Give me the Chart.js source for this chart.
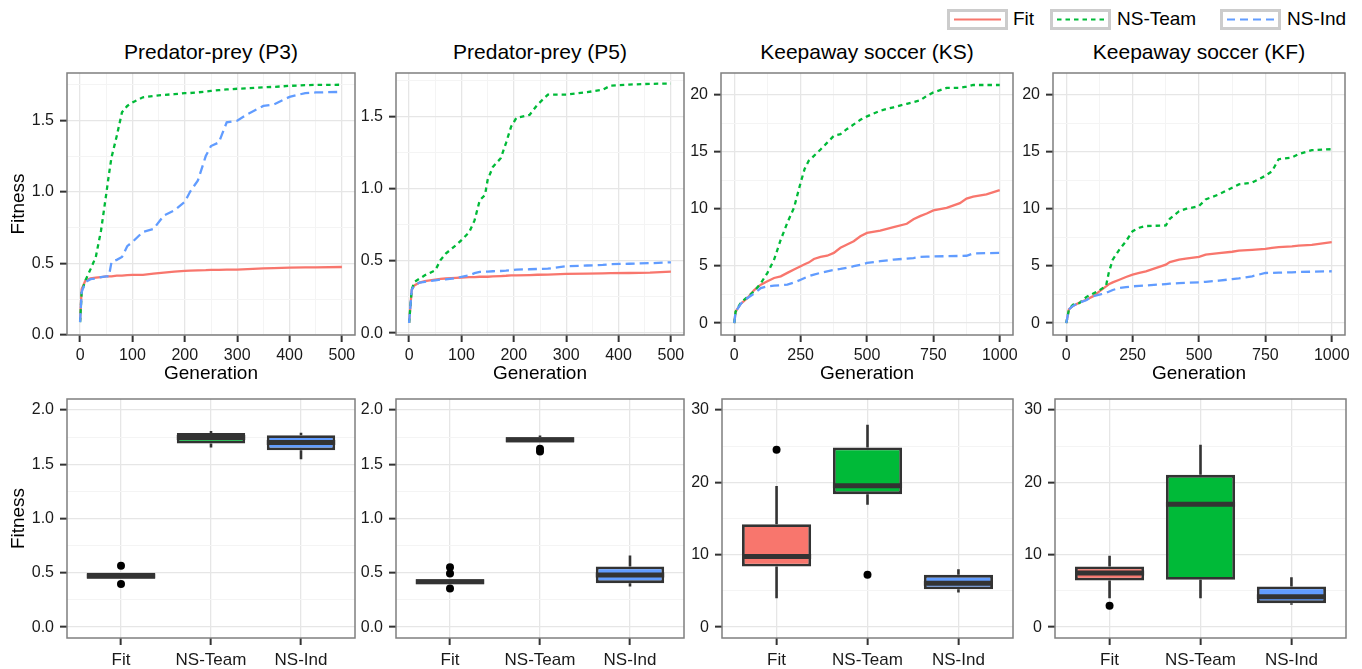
<!DOCTYPE html>
<html>
<head>
<meta charset="utf-8">
<script src="https://cdn.jsdelivr.net/npm/chart.js"></script>
<style>
html,body{margin:0;padding:0;background:#fff;}
body{width:1362px;height:669px;position:relative;overflow:hidden;font-family:'Liberation Sans',Arial,Helvetica,sans-serif;}
canvas{position:absolute;}
.ptitle{position:absolute;text-align:center;font-size:21px;line-height:24px;color:#000;white-space:nowrap;width:300px;}
.lkey{position:absolute;top:9px;width:61px;height:21px;box-sizing:border-box;border:3px solid #CCCCCC;background:#fff;}
.lkey svg{position:absolute;left:0;top:0;}
.ltext{position:absolute;top:8px;font-size:19px;line-height:22px;color:#000;white-space:nowrap;}
</style>
</head>
<body>
<div class="ptitle" style="left:61px;top:40px;">Predator-prey (P3)</div>
<div class="ptitle" style="left:390px;top:40px;">Predator-prey (P5)</div>
<div class="ptitle" style="left:717px;top:40px;">Keepaway soccer (KS)</div>
<div class="ptitle" style="left:1049px;top:40px;">Keepaway soccer (KF)</div>

<div class="lkey" style="left:947px;"><svg width="55" height="15"><line x1="4" y1="7.5" x2="51" y2="7.5" stroke="#F8766D" stroke-width="2.2"/></svg></div>
<div class="ltext" style="left:1013px;">Fit</div>
<div class="lkey" style="left:1050px;"><svg width="55" height="15"><line x1="4" y1="7.5" x2="51" y2="7.5" stroke="#00BA38" stroke-width="2.2" stroke-dasharray="4.5 4"/></svg></div>
<div class="ltext" style="left:1117px;">NS-Team</div>
<div class="lkey" style="left:1220px;"><svg width="55" height="15"><line x1="4" y1="7.5" x2="51" y2="7.5" stroke="#619CFF" stroke-width="2.2" stroke-dasharray="8 5"/></svg></div>
<div class="ltext" style="left:1287px;">NS-Ind</div>

<script>
// ---------------- DATA ----------------
const seriesNames = ['Fit', 'NS-Team', 'NS-Ind'];
const boxCategories = ['Fit', 'NS-Team', 'NS-Ind'];

// Predator-prey (P3)
const p3Gen    = [0, 3, 10, 20, 30, 40, 50, 55, 60, 70, 80, 90, 100, 120, 140, 160, 180, 200, 210, 225, 240, 250, 265, 280, 300, 320, 350, 370, 400, 430, 450, 500];
const p3Fit    = [0.10, 0.32, 0.38, 0.395, 0.40, 0.405, 0.41, 0.41, 0.41, 0.415, 0.415, 0.418, 0.42, 0.42, 0.428, 0.435, 0.442, 0.448, 0.45, 0.452, 0.453, 0.455, 0.455, 0.456, 0.457, 0.46, 0.465, 0.467, 0.47, 0.472, 0.473, 0.475];
const p3NSTeam = [0.09, 0.30, 0.38, 0.46, 0.545, 0.73, 0.986, 1.12, 1.24, 1.39, 1.555, 1.60, 1.624, 1.66, 1.67, 1.677, 1.682, 1.69, 1.69, 1.695, 1.70, 1.705, 1.71, 1.715, 1.72, 1.723, 1.73, 1.733, 1.74, 1.745, 1.747, 1.748];
const p3NSInd  = [0.09, 0.30, 0.37, 0.39, 0.395, 0.405, 0.41, 0.41, 0.51, 0.525, 0.545, 0.62, 0.65, 0.72, 0.74, 0.835, 0.87, 0.93, 1.0, 1.08, 1.25, 1.32, 1.345, 1.485, 1.497, 1.543, 1.60, 1.61, 1.663, 1.69, 1.694, 1.698];

// Predator-prey (P5)
const p5Gen    = [0, 5, 10, 20, 30, 50, 60, 70, 90, 100, 115, 125, 135, 145, 150, 160, 175, 185, 195, 205, 230, 245, 265, 300, 340, 370, 385, 420, 460, 500];
const p5Fit    = [0.07, 0.30, 0.33, 0.35, 0.36, 0.37, 0.375, 0.378, 0.383, 0.385, 0.387, 0.388, 0.39, 0.39, 0.39, 0.392, 0.395, 0.397, 0.40, 0.40, 0.402, 0.404, 0.405, 0.41, 0.412, 0.414, 0.415, 0.416, 0.418, 0.425];
const p5NSTeam = [0.07, 0.30, 0.354, 0.377, 0.40, 0.435, 0.505, 0.55, 0.61, 0.643, 0.70, 0.78, 0.92, 0.956, 1.06, 1.15, 1.21, 1.315, 1.43, 1.49, 1.51, 1.58, 1.65, 1.65, 1.667, 1.685, 1.713, 1.72, 1.725, 1.727];
const p5NSInd  = [0.07, 0.30, 0.33, 0.35, 0.355, 0.365, 0.37, 0.372, 0.38, 0.39, 0.40, 0.415, 0.424, 0.425, 0.426, 0.428, 0.43, 0.432, 0.435, 0.44, 0.442, 0.444, 0.446, 0.463, 0.468, 0.472, 0.477, 0.48, 0.484, 0.49];

// Keepaway soccer (KS)
const ksGen    = [0, 5, 25, 50, 75, 100, 125, 150, 175, 200, 225, 250, 265, 280, 300, 325, 350, 375, 400, 425, 450, 475, 500, 550, 600, 650, 675, 700, 725, 750, 800, 850, 875, 900, 950, 1000];
const ksFit    = [0, 1.0, 1.7, 2.2, 2.9, 3.37, 3.66, 3.95, 4.1, 4.4, 4.7, 4.98, 5.15, 5.3, 5.62, 5.8, 5.9, 6.15, 6.6, 6.88, 7.17, 7.6, 7.9, 8.1, 8.4, 8.7, 9.1, 9.37, 9.6, 9.87, 10.1, 10.5, 10.9, 11.07, 11.27, 11.65];
const ksNSTeam = [0, 1.0, 1.8, 2.3, 2.8, 3.5, 4.4, 5.56, 7.3, 8.8, 10.1, 12.3, 13.5, 14.2, 14.64, 15.2, 15.8, 16.4, 16.55, 17.0, 17.4, 17.8, 18.1, 18.6, 18.9, 19.2, 19.35, 19.5, 19.9, 20.2, 20.6, 20.6, 20.7, 20.85, 20.85, 20.85];
const ksNSInd  = [0, 1.0, 1.7, 2.2, 2.6, 3.07, 3.22, 3.28, 3.32, 3.37, 3.55, 3.8, 3.95, 4.1, 4.25, 4.4, 4.54, 4.65, 4.74, 4.85, 4.98, 5.1, 5.27, 5.42, 5.56, 5.65, 5.7, 5.8, 5.82, 5.84, 5.86, 5.88, 5.9, 6.1, 6.13, 6.15];

// Keepaway soccer (KF)
const kfGen    = [0, 10, 25, 50, 75, 100, 125, 150, 160, 175, 200, 225, 250, 275, 300, 375, 390, 425, 450, 500, 525, 575, 625, 650, 700, 750, 775, 800, 850, 875, 925, 1000];
const kfFit    = [0, 1.2, 1.5, 1.8, 2.05, 2.34, 2.78, 3.22, 3.4, 3.57, 3.8, 4.04, 4.25, 4.4, 4.54, 5.12, 5.35, 5.55, 5.65, 5.8, 6.0, 6.12, 6.25, 6.35, 6.42, 6.5, 6.58, 6.65, 6.72, 6.78, 6.85, 7.09];
const kfNSTeam = [0, 1.2, 1.6, 1.76, 2.28, 2.58, 2.87, 3.28, 4.4, 5.56, 6.44, 7.17, 8.05, 8.35, 8.5, 8.55, 9.14, 9.8, 10.0, 10.25, 10.83, 11.27, 11.86, 12.15, 12.3, 12.9, 13.3, 14.35, 14.5, 14.8, 15.14, 15.23];
const kfNSInd  = [0, 1.2, 1.5, 1.8, 2.0, 2.34, 2.49, 2.64, 2.75, 2.9, 3.07, 3.15, 3.22, 3.26, 3.3, 3.42, 3.45, 3.5, 3.53, 3.57, 3.62, 3.72, 3.85, 3.92, 4.1, 4.39, 4.4, 4.42, 4.45, 4.48, 4.5, 4.54];

// Box plots: per category [lower whisker, Q1, median, Q3, upper whisker]
const boxP3 = [[0.445, 0.445, 0.47, 0.50, 0.50], [1.653, 1.69, 1.745, 1.787, 1.806], [1.545, 1.628, 1.70, 1.766, 1.79]];
const outP3 = [[0.564, 0.398], [], []];
const boxP5 = [[0.395, 0.395, 0.418, 0.44, 0.44], [1.70, 1.70, 1.725, 1.748, 1.764], [0.374, 0.405, 0.479, 0.558, 0.66]];
const outP5 = [[0.552, 0.494, 0.356], [1.641, 1.617], []];
const boxKS = [[4.0, 8.37, 9.75, 14.22, 19.5], [16.89, 18.36, 19.53, 24.8, 27.93], [4.79, 5.24, 6.07, 7.22, 8.0]];
const outKS = [[24.48], [7.22], []];
const boxKF = [[4.0, 6.44, 7.46, 8.37, 9.85], [4.0, 6.53, 16.98, 21.03, 25.17], [3.08, 3.31, 4.2, 5.61, 6.9]];
const outKF = [[2.95], [], []];

// Tick labels
const ppGenTicks = [0, 100, 200, 300, 400, 500];
const kGenTicks = [0, 250, 500, 750, 1000];
const ppFitTicks = [0.0, 0.5, 1.0, 1.5];
const kFitTicks = [0, 5, 10, 15, 20];
const ppBoxTicks = [0.0, 0.5, 1.0, 1.5, 2.0];
const kBoxTicks = [0, 10, 20, 30];

// ---------------- STYLE / HELPERS ----------------
const FONT = "'Liberation Sans', Arial, Helvetica, sans-serif";
const COL = ['#F8766D', '#00BA38', '#619CFF'];
const TICK_FONT = 16;

function midpoints(arr, min, max) {
  const out = [];
  const step = arr[1] - arr[0];
  for (let i = -1; i < arr.length; i++) {
    const v = (i < 0 ? arr[0] - step / 2 : arr[i] + step / 2);
    if (v > min && v < max) out.push(v);
  }
  return out;
}

function axis(o) {
  const major = o.major;
  const minor = o.minor || [];
  const all = major.concat(minor).sort((a, b) => a - b);
  const isMajor = v => major.some(m => Math.abs(m - v) < 1e-9);
  const isMaj = c => c && c.tick ? isMajor(c.tick.value) : true;
  return {
    type: 'linear', min: o.min, max: o.max, offset: false,
    afterBuildTicks: s => { s.ticks = all.map(v => ({ value: v })); },
    ticks: {
      autoSkip: false, maxRotation: 0, minRotation: 0, padding: o.pad,
      color: '#1a1a1a', font: { family: FONT, size: o.fs || TICK_FONT },
      callback: v => (isMajor(v) ? o.fmt(v) : '')
    },
    grid: {
      offset: false, drawOnChartArea: true, drawTicks: true, tickLength: 7,
      color: c => (isMaj(c) ? '#E6E6E6' : '#F4F4F4'),
      lineWidth: c => (isMaj(c) ? 1.3 : 1),
      tickColor: c => (isMaj(c) ? '#333333' : 'rgba(0,0,0,0)'),
      tickWidth: 2
    },
    border: { display: false },
    title: o.title ? { display: true, text: o.title, color: '#000', font: { family: FONT, size: 19 }, padding: 0 } : { display: false }
  };
}

const panelBorder = {
  id: 'panelBorder',
  afterDraw(chart) {
    const { ctx, chartArea: a } = chart;
    ctx.save();
    ctx.strokeStyle = '#7F7F7F';
    ctx.lineWidth = 1.5;
    ctx.strokeRect(a.left, a.top, a.right - a.left, a.bottom - a.top);
    ctx.restore();
  }
};

function makeChart(rect, yW, xH, padTop, padRight, type, datasets, xAxis, yAxis) {
  const cv = document.createElement('canvas');
  const w = rect.r - rect.l + yW + padRight;
  const h = rect.b - rect.t + padTop + xH;
  cv.width = w; cv.height = h;
  cv.style.left = (rect.l - yW) + 'px';
  cv.style.top = (rect.t - padTop) + 'px';
  cv.style.width = w + 'px'; cv.style.height = h + 'px';
  document.body.appendChild(cv);
  xAxis.afterFit = s => { s.height = xH; s.paddingLeft = 0; s.paddingRight = 0; };
  yAxis.afterFit = s => { s.width = yW; s.paddingTop = 0; s.paddingBottom = 0; };
  new Chart(cv, {
    type,
    data: { datasets },
    options: {
      responsive: false, animation: false, devicePixelRatio: 1, events: [],
      layout: { padding: { top: padTop, right: padRight, left: 0, bottom: 0 } },
      plugins: { legend: { display: false }, tooltip: { enabled: false } },
      scales: { x: xAxis, y: yAxis }
    },
    plugins: [panelBorder]
  });
}

function lineSets(gen, fit, team, ind) {
  const pts = arr => gen.map((g, i) => ({ x: g, y: arr[i] }));
  return [
    { label: seriesNames[0], data: pts(fit), borderColor: COL[0], borderWidth: 2.3, pointRadius: 0, tension: 0, order: 3 },
    { label: seriesNames[1], data: pts(team), borderColor: COL[1], borderWidth: 2.3, borderDash: [4.5, 4], pointRadius: 0, tension: 0, order: 2 },
    { label: seriesNames[2], data: pts(ind), borderColor: COL[2], borderWidth: 2.3, borderDash: [9, 5], pointRadius: 0, tension: 0, order: 1 }
  ];
}

function boxSets(stats, outliers) {
  const half = 0.38;
  const boxes = [], med = [], whisk = [], outs = [];
  stats.forEach((s, i) => {
    const x = i + 1;
    boxes.push({ x, y: [s[1], s[3]] });
    med.push({ x: x - half, y: s[2] }, { x: x + half, y: s[2] }, { x: x + half, y: null });
    whisk.push({ x, y: s[4] }, { x, y: s[3] }, { x, y: null }, { x, y: s[1] }, { x, y: s[0] }, { x, y: null });
    outliers[i].forEach(v => outs.push({ x, y: v }));
  });
  return [
    { type: 'bar', data: boxes, backgroundColor: COL, borderColor: '#333333', borderWidth: 2.8, borderSkipped: false, barPercentage: 0.76, categoryPercentage: 1, grouped: false, order: 2 },
    { type: 'line', data: whisk, borderColor: '#333333', borderWidth: 2.6, pointRadius: 0, spanGaps: false, tension: 0, order: 3 },
    { type: 'line', data: med, borderColor: '#333333', borderWidth: 5, pointRadius: 0, spanGaps: false, tension: 0, borderCapStyle: 'butt', order: 1 },
    { type: 'scatter', data: outs, pointRadius: 4, pointBackgroundColor: '#000', backgroundColor: '#000', pointBorderWidth: 0, borderWidth: 0, order: 0 }
  ];
}

const f1 = v => v.toFixed(1);
const f0 = v => String(Math.round(v));
const catFmt = v => boxCategories[Math.round(v) - 1] || '';

// ---------------- ROW 1: line charts ----------------
const R1 = { t: 73, b: 335 };
const xH1 = 50;
const lineCharts = [
  { l: 67, r: 355, gen: [p3Gen, p3Fit, p3NSTeam, p3NSInd], xr: [-25, 525], xt: ppGenTicks, yr: [0, 1.83], yt: ppFitTicks, fy: f1, yTitle: 'Fitness' },
  { l: 396, r: 684, gen: [p5Gen, p5Fit, p5NSTeam, p5NSInd], xr: [-25, 525], xt: ppGenTicks, yr: [-0.013, 1.80], yt: ppFitTicks, fy: f1 },
  { l: 721, r: 1013, gen: [ksGen, ksFit, ksNSTeam, ksNSInd], xr: [-50, 1050], xt: kGenTicks, yr: [-1.04, 21.9], yt: kFitTicks, fy: f0 },
  { l: 1053, r: 1345, gen: [kfGen, kfFit, kfNSTeam, kfNSInd], xr: [-50, 1050], xt: kGenTicks, yr: [-1.04, 21.9], yt: kFitTicks, fy: f0 }
];
lineCharts.forEach(p => {
  const xA = axis({ min: p.xr[0], max: p.xr[1], major: p.xt, minor: midpoints(p.xt, p.xr[0], p.xr[1]), fmt: f0, pad: 4, title: 'Generation' });
  const yA = axis({ min: p.yr[0], max: p.yr[1], major: p.yt, minor: midpoints(p.yt, p.yr[0], p.yr[1]), fmt: p.fy, pad: 6, title: p.yTitle });
  makeChart({ l: p.l, r: p.r, t: R1.t, b: R1.b }, p.yTitle ? 60 : 45, xH1, 10, 16, 'line', lineSets(...p.gen), xA, yA);
});

// ---------------- ROW 2: box plots ----------------
const R2 = { t: 399, b: 638 };
const xH2 = 31;
const boxCharts = [
  { l: 67, r: 355, stats: boxP3, outs: outP3, yr: [-0.1, 2.1], yt: ppBoxTicks, fy: f1, yTitle: 'Fitness' },
  { l: 396, r: 684, stats: boxP5, outs: outP5, yr: [-0.1, 2.1], yt: ppBoxTicks, fy: f1 },
  { l: 722, r: 1013, stats: boxKS, outs: outKS, yr: [-1.5, 31.5], yt: kBoxTicks, fy: f0 },
  { l: 1055, r: 1346, stats: boxKF, outs: outKF, yr: [-1.5, 31.5], yt: kBoxTicks, fy: f0 }
];
boxCharts.forEach(p => {
  const xA = axis({ min: 0.4, max: 3.6, major: [1, 2, 3], minor: [], fmt: catFmt, pad: 5, fs: 17 });
  const yA = axis({ min: p.yr[0], max: p.yr[1], major: p.yt, minor: midpoints(p.yt, p.yr[0], p.yr[1]), fmt: p.fy, pad: 6, title: p.yTitle });
  makeChart({ l: p.l, r: p.r, t: R2.t, b: R2.b }, p.yTitle ? 60 : 45, xH2, 10, 14, 'bar', boxSets(p.stats, p.outs), xA, yA);
});
</script>
</body>
</html>
